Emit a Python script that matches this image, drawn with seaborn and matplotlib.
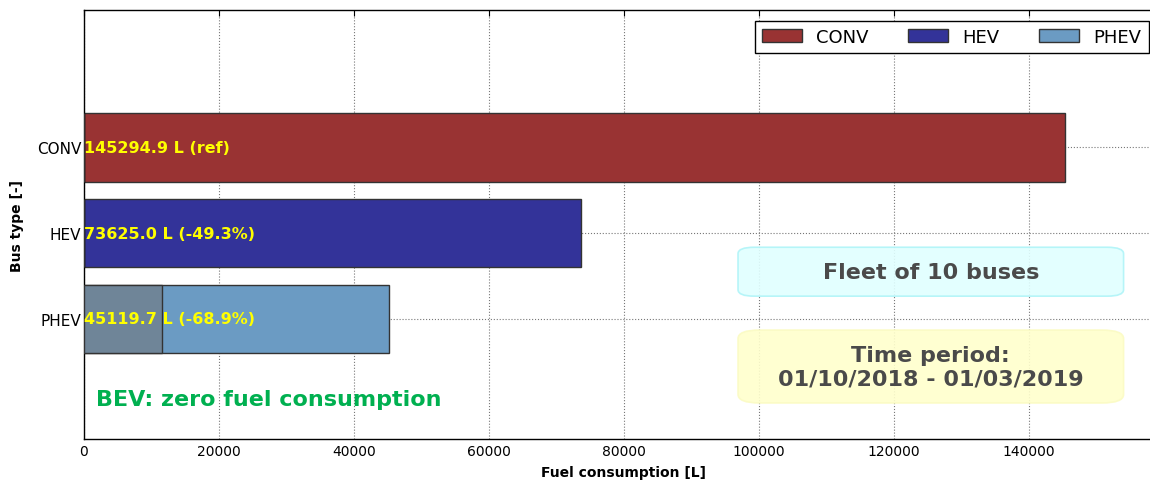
import matplotlib
matplotlib.use('Agg')
import matplotlib.pyplot as plt
from matplotlib.patches import Patch, FancyBboxPatch
import seaborn as sns
import pandas as pd

#%% data
bus_types = ['CONV', 'HEV', 'PHEV']
fuel = [145294.9, 73625.0, 45119.7]
labels = ['145294.9 L (ref)', '73625.0 L (-49.3%)', '45119.7 L (-68.9%)']
phev_part = [0, 0, 11550]   # darker part of the PHEV bar
colors = ['#993333', '#333399', '#6b9bc3']
part_color = '#6f8598'
xticks = [0, 20000, 40000, 60000, 80000, 100000, 120000, 140000]

df = pd.DataFrame({'bus': bus_types, 'fuel': fuel, 'part': phev_part})

#%% plot
sns.set_style('white')
plt.rcParams['font.family'] = ['DejaVu Sans']
plt.rcParams['text.color'] = 'black'
plt.rcParams['xtick.color'] = 'black'
plt.rcParams['ytick.color'] = 'black'
plt.rcParams['axes.labelcolor'] = 'black'

fig = plt.figure(figsize=(11.5, 4.81), dpi=100)
ax = fig.add_axes([0.07304, 0.0852, 0.9391, 0.8919])

sns.barplot(data=df, x='fuel', y='bus', hue='bus', palette=colors, order=bus_types,
            width=0.8, saturation=1, edgecolor='#333333', linewidth=1, legend=False,
            ax=ax, zorder=2)
sns.barplot(data=df, x='part', y='bus', order=bus_types, color=part_color, saturation=1,
            width=0.8, edgecolor='#333333', linewidth=1, ax=ax, zorder=3)

for i, t in enumerate(labels):
    ax.text(0, i, t, color='yellow', fontsize=11.5, fontweight='bold',
            ha='left', va='center', zorder=5)

ax.set_xlim(0, 160000)
ax.set_ylim(3.4, -1.6)
ax.set_xticks(xticks)
ax.set_xticklabels([str(v) for v in xticks], fontsize=10)
ax.tick_params(axis='y', labelsize=11, pad=2)
ax.tick_params(direction='in', top=True, right=True, length=4, color='black')
ax.grid(True, linestyle=':', color='#777777', linewidth=0.8, zorder=0)
ax.set_axisbelow(True)
for s in ax.spines.values():
    s.set_color('black')
    s.set_linewidth(1)

ax.set_xlabel('Fuel consumption [L]', fontsize=10, fontweight='bold', labelpad=5)
ax.set_ylabel('Bus type [-]', fontsize=10, fontweight='bold', labelpad=9)

handles = [Patch(facecolor=c, edgecolor='#333333', label=b) for b, c in zip(bus_types, colors)]
leg = ax.legend(handles=handles, loc='upper right', ncol=3, fontsize=13, fancybox=False,
                edgecolor='black', framealpha=1, borderaxespad=0.6, columnspacing=2.2,
                handlelength=2.2, bbox_to_anchor=(0.996, 1.0))
leg.get_frame().set_linewidth(1)

# annotation boxes
box1 = FancyBboxPatch((0.6056, 0.333), 0.357, 0.114, boxstyle='round,pad=0,rounding_size=0.015',
                      transform=ax.transAxes, facecolor='#e0ffff', edgecolor='#b0f4f8',
                      linewidth=1.2, zorder=4, alpha=0.9)
ax.add_patch(box1)
ax.text(0.784, 0.39, 'Fleet of 10 buses', transform=ax.transAxes, fontsize=16,
        fontweight='bold', color='#4a4a4a', ha='center', va='center', zorder=5)

box2 = FancyBboxPatch((0.6056, 0.084), 0.357, 0.17, boxstyle='round,pad=0,rounding_size=0.02',
                      transform=ax.transAxes, facecolor='#ffffcc', edgecolor='#fbfbc4',
                      linewidth=1.2, zorder=4, alpha=0.9)
ax.add_patch(box2)
ax.text(0.784, 0.169, 'Time period:\n01/10/2018 - 01/03/2019', transform=ax.transAxes,
        fontsize=16, fontweight='bold', color='#4a4a4a', ha='center', va='center',
        linespacing=1.25, zorder=5)

ax.text(0.011, 0.093, 'BEV: zero fuel consumption', transform=ax.transAxes, fontsize=16,
        fontweight='bold', color='#00b050', ha='left', va='center', zorder=5)

fig.savefig('out.png', dpi=100)
